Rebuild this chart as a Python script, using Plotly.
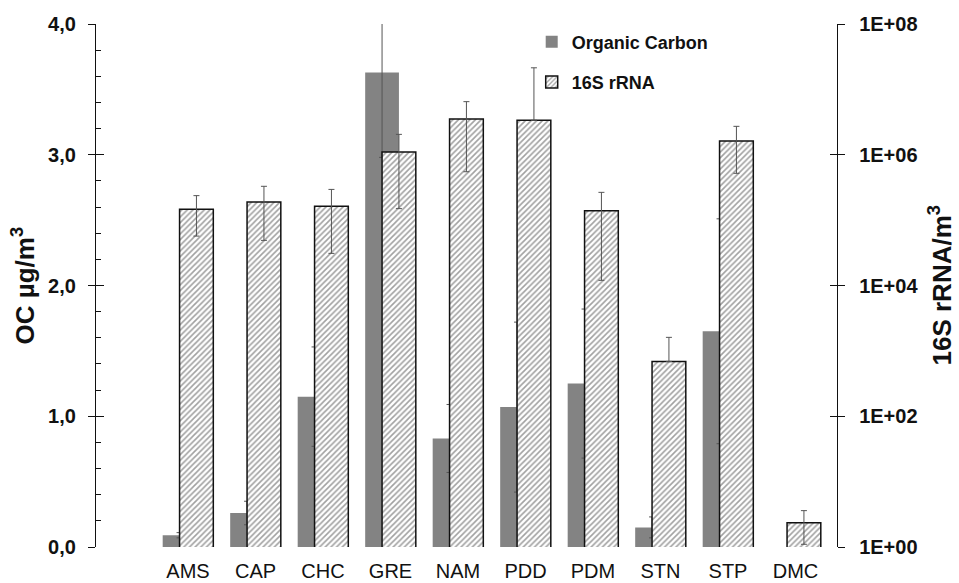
import plotly.graph_objects as go

categories = ["AMS", "CAP", "CHC", "GRE", "NAM", "PDD", "PDM", "STN", "STP", "DMC"]
oc_values = [0.09, 0.26, 1.15, 3.63, 0.83, 1.07, 1.25, 0.15, 1.65, None]
oc_errors = [0.02, 0.09, 0.38, 0.65, 0.26, 0.65, 0.57, 0.08, 0.86, None]
rna_values = [1.47e5, 1.89e5, 1.63e5, 1.10e6, 3.52e6, 3.37e6, 1.39e5, 6.9e2, 1.62e6, 2.35]
rna_errors = [9.0e4, 1.4e5, 1.32e5, 0.95e6, 2.97e6, 1.8e7, 1.27e5, 9.2e2, 1.1e6, 1.25]
left_ticks = [0, 1, 2, 3, 4]
right_tickvals = [1, 1e2, 1e4, 1e6, 1e8]
right_ticktext = ["1E+00", "1E+02", "1E+04", "1E+06", "1E+08"]

# Excel-style log error bars: a lower bar that would reach below zero is dropped
rna_err_minus = [e if e < v else 0 for v, e in zip(rna_values, rna_errors)]

FONT = "Liberation Sans, Arial, sans-serif"
xpos = list(range(len(categories)))

fig = go.Figure()
fig.add_trace(go.Bar(
    x=xpos, y=oc_values, name="Organic Carbon", yaxis="y",
    width=0.5, offset=-0.375,
    marker=dict(color="#838383", line=dict(width=0)),
    error_y=dict(type="data", array=oc_errors, color="#555555", thickness=1, width=3),
    legendgroup="a",
))
fig.add_trace(go.Bar(
    x=xpos, y=rna_values, name="16S rRNA", yaxis="y2",
    width=0.5, offset=-0.125,
    marker=dict(color="white", line=dict(color="#111111", width=1.5),
                pattern=dict(shape="/", fgcolor="#444444", bgcolor="white", size=4, solidity=0.4)),
    error_y=dict(type="data", symmetric=False, array=rna_errors, arrayminus=rna_err_minus,
                 color="#555555", thickness=1, width=3),
    legendgroup="b",
))
# helper traces so the inside-tick overlay axes are drawn
fig.add_trace(go.Scatter(x=[], y=[], yaxis="y3", showlegend=False, hoverinfo="skip"))
fig.add_trace(go.Scatter(x=[], y=[], yaxis="y4", showlegend=False, hoverinfo="skip"))

tickfont = dict(family=FONT, size=20, color="#111111", weight="bold")

fig.update_layout(
    width=959, height=583,
    margin=dict(l=96, r=122, t=24, b=36),
    plot_bgcolor="white", paper_bgcolor="white",
    separators=",.",
    barmode="overlay",
    showlegend=True,
    legend=dict(x=0.588, y=1.001, xanchor="left", yanchor="top",
                font=dict(family=FONT, size=18, color="#111111", weight="bold"),
                tracegroupgap=14, traceorder="grouped", bgcolor="rgba(0,0,0,0)",
                itemwidth=30),
    xaxis=dict(range=[-1.363, 9.615], tickvals=xpos, ticktext=categories,
               showline=False, showgrid=False, zeroline=False, ticks="",
               tickfont=dict(family=FONT, size=20, color="#111111"),
               ticklabelstandoff=10, automargin=False),
    yaxis=dict(range=[0, 4], tickvals=left_ticks, tickformat=".1f",
               showline=True, linecolor="#111111", linewidth=1.3,
               ticks="outside", ticklen=7, tickwidth=1.3, tickcolor="#111111",
               showgrid=False, zeroline=False, tickfont=tickfont,
               ticklabelstandoff=8, automargin=False),
    yaxis3=dict(overlaying="y", side="left", range=[0, 4], tickvals=left_ticks,
                ticks="inside", ticklen=8, tickwidth=1.3, tickcolor="#111111",
                showticklabels=False, showline=False, showgrid=False, zeroline=False,
                automargin=False,
                minor=dict(ticks="inside", ticklen=5, dtick=0.2, tickwidth=1, tickcolor="#111111")),
    yaxis2=dict(overlaying="y", side="right", type="log", range=[0, 8],
                tickvals=right_tickvals, ticktext=right_ticktext,
                showline=True, linecolor="#111111", linewidth=1.3,
                ticks="outside", ticklen=7, tickwidth=1.3, tickcolor="#111111",
                showgrid=False, zeroline=False, tickfont=tickfont,
                ticklabelstandoff=10, automargin=False),
    yaxis4=dict(overlaying="y", side="right", type="log", range=[0, 8],
                tickvals=right_tickvals, ticks="inside", ticklen=7, tickwidth=1.3,
                tickcolor="#111111", showticklabels=False, showline=False,
                showgrid=False, zeroline=False, automargin=False),
    annotations=[
        dict(text="<b>OC µg/m<sup>3</sup></b>", xref="paper", yref="paper",
             x=(24 - 96) / 741, y=0.5, xanchor="center", yanchor="middle",
             textangle=-90, showarrow=False,
             font=dict(family=FONT, size=26, color="#111111")),
        dict(text="<b>16S rRNA/m<sup>3</sup></b>", xref="paper", yref="paper",
             x=(941 - 96) / 741, y=0.5, xanchor="center", yanchor="middle",
             textangle=-90, showarrow=False,
             font=dict(family=FONT, size=26, color="#111111")),
    ],
)

fig.write_html("out.html")
